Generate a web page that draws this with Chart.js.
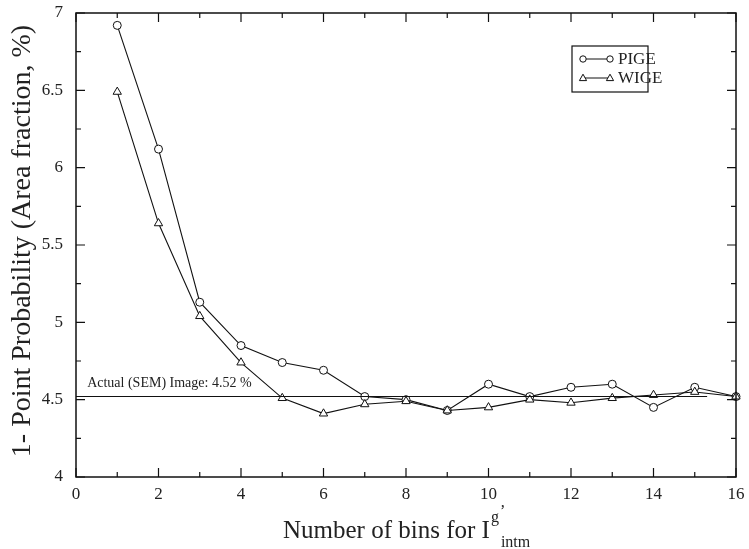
<!DOCTYPE html>
<html>
<head>
<meta charset="utf-8">
<script src="https://cdn.jsdelivr.net/npm/chart.js@4"></script>
<style>
  html, body { margin: 0; padding: 0; background: #fff; }
  #wrap { width: 749px; height: 549px; }
</style>
</head>
<body>
<div id="wrap"><canvas id="chart" width="749" height="549"></canvas></div>
<script>
const bins = [1, 2, 3, 4, 5, 6, 7, 8, 9, 10, 11, 12, 13, 14, 15, 16];
const pige = [6.92, 6.12, 5.13, 4.85, 4.74, 4.69, 4.52, 4.50, 4.43, 4.60, 4.52, 4.58, 4.60, 4.45, 4.58, 4.52];
const wige = [6.49, 5.64, 5.04, 4.74, 4.51, 4.41, 4.47, 4.49, 4.43, 4.45, 4.50, 4.48, 4.51, 4.53, 4.55, 4.52];
const actualLine = [{ x: 0, y: 4.52 }, { x: 15.3, y: 4.52 }];
const actualLabel = "Actual (SEM) Image: 4.52 %";

const serif = "'Liberation Serif', 'DejaVu Serif', serif";

// inward ticks, frame, legend, titles
const decor = {
  id: "decor",
  afterDatasetsDraw(chart) {
    const { ctx, chartArea: a, scales } = chart;
    const xs = scales.x, ys = scales.y;
    ctx.save();
    ctx.strokeStyle = "#111";
    ctx.lineWidth = 1.5;
    ctx.strokeRect(a.left, a.top, a.right - a.left, a.bottom - a.top);

    ctx.lineWidth = 1.2;
    ctx.beginPath();
    for (let v = 0; v <= 16; v += 1) {
      const px = xs.getPixelForValue(v);
      const len = v % 2 === 0 ? 9 : 5;
      ctx.moveTo(px, a.bottom); ctx.lineTo(px, a.bottom - len);
      ctx.moveTo(px, a.top); ctx.lineTo(px, a.top + len);
    }
    for (let v = 4; v <= 7.001; v += 0.25) {
      const py = ys.getPixelForValue(v);
      const len = Math.abs(v * 2 - Math.round(v * 2)) < 0.01 ? 9 : 5;
      ctx.moveTo(a.left, py); ctx.lineTo(a.left + len, py);
      ctx.moveTo(a.right, py); ctx.lineTo(a.right - len, py);
    }
    ctx.stroke();

    // annotation
    ctx.fillStyle = "#222";
    ctx.font = "14px " + serif;
    ctx.textBaseline = "alphabetic";
    ctx.textAlign = "left";
    ctx.fillText(actualLabel, xs.getPixelForValue(0.27), ys.getPixelForValue(4.52) - 10);

    // legend
    const lx = 572, ly = 46, lw = 76, lh = 46;
    ctx.fillStyle = "#fff";
    ctx.fillRect(lx, ly, lw, lh);
    ctx.lineWidth = 1.2;
    ctx.strokeStyle = "#111";
    ctx.strokeRect(lx, ly, lw, lh);
    const rows = [{ name: "PIGE", y: ly + 13, style: "circle" }, { name: "WIGE", y: ly + 32, style: "triangle" }];
    rows.forEach(r => {
      ctx.beginPath();
      ctx.lineWidth = 1;
      ctx.moveTo(583, r.y); ctx.lineTo(610, r.y);
      ctx.stroke();
      [583, 610].forEach(px => {
        ctx.beginPath();
        if (r.style === "circle") {
          ctx.arc(px, r.y, 3.2, 0, Math.PI * 2);
        } else {
          ctx.moveTo(px, r.y - 3.8); ctx.lineTo(px + 3.6, r.y + 2.6); ctx.lineTo(px - 3.6, r.y + 2.6); ctx.closePath();
        }
        ctx.fillStyle = "#fff"; ctx.fill(); ctx.stroke();
      });
      ctx.fillStyle = "#222";
      ctx.font = "17px " + serif;
      ctx.textBaseline = "middle";
      ctx.fillText(r.name, 618, r.y + 1);
    });

    // x title with super/subscript
    ctx.fillStyle = "#222";
    ctx.textBaseline = "alphabetic";
    ctx.font = "25px " + serif;
    const main = "Number of bins for I";
    const startX = 283;
    ctx.fillText(main, startX, 538);
    const wMain = ctx.measureText(main).width;
    ctx.font = "16px " + serif;
    ctx.fillText("g", startX + wMain + 1, 522);
    ctx.fillText("\u2019", startX + wMain + 10, 516);
    ctx.fillText("intm", startX + wMain + 11, 547);

    // y title
    ctx.translate(23, 241);
    ctx.rotate(-Math.PI / 2);
    ctx.textAlign = "center";
    ctx.textBaseline = "middle";
    ctx.font = "28px " + serif;
    ctx.fillText("1- Point Probability (Area fraction, %)", 0, 0);
    ctx.restore();
  }
};

const series = (label, data, style) => ({
  label,
  data: data.map((v, i) => ({ x: bins[i], y: v })),
  borderColor: "#111",
  backgroundColor: "#fff",
  borderWidth: 1.1,
  showLine: true,
  pointStyle: style,
  pointRadius: style === "circle" ? 4 : 4.8,
  pointBorderWidth: 1,
  pointBackgroundColor: "#fff",
  pointBorderColor: "#111",
  tension: 0,
  clip: false
});

new Chart(document.getElementById("chart"), {
  type: "scatter",
  data: {
    datasets: [
      {
        label: "Actual",
        data: actualLine,
        showLine: true,
        borderColor: "#111",
        borderWidth: 1.1,
        pointRadius: 0
      },
      series("WIGE", wige, "triangle"),
      series("PIGE", pige, "circle")
    ]
  },
  options: {
    responsive: false,
    animation: false,
    layout: { padding: { top: 13, right: 13, left: 0, bottom: 0 } },
    plugins: { legend: { display: false }, tooltip: { enabled: false } },
    scales: {
      x: {
        type: "linear",
        min: 0, max: 16,
        afterFit: s => { s.height = 72; s.paddingLeft = 0; s.paddingRight = 0; },
        border: { display: false },
        grid: { display: false, drawTicks: false },
        ticks: {
          stepSize: 2,
          padding: 7,
          color: "#222",
          font: { family: serif, size: 17 }
        }
      },
      y: {
        type: "linear",
        min: 4, max: 7,
        afterFit: s => { s.width = 76; s.paddingTop = 0; s.paddingBottom = 0; },
        border: { display: false },
        grid: { display: false, drawTicks: false },
        ticks: {
          stepSize: 0.5,
          padding: 13,
          color: "#222",
          font: { family: serif, size: 17 },
          callback: v => String(v)
        }
      }
    }
  },
  plugins: [decor]
});
</script>
</body>
</html>
